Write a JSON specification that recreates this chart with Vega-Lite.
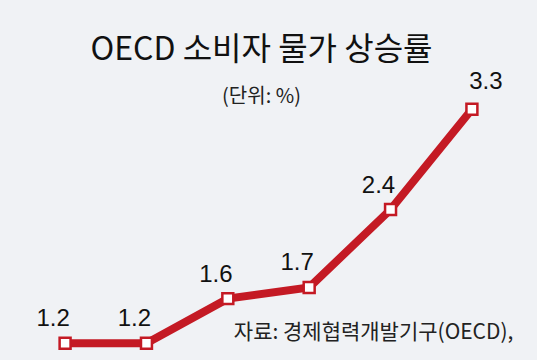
{
  "$schema": "https://vega.github.io/schema/vega-lite/v6.json",
  "width": 537,
  "height": 360,
  "autosize": {"type": "fit", "contains": "padding"},
  "padding": 0,
  "background": "#f0f2f5",
  "config": {"view": {"stroke": null}},
  "title": {
    "text": "OECD 소비자 물가 상승률",
    "subtitle": "(단위: %)",
    "anchor": "middle",
    "offset": -108,
    "dx": -7,
    "font": "Noto Sans CJK KR",
    "fontSize": 32,
    "fontWeight": "normal",
    "color": "#111111",
    "subtitleFont": "Noto Sans CJK KR",
    "subtitleFontSize": 20,
    "subtitleColor": "#222222",
    "subtitlePadding": 20
  },
  "layer": [
    {
      "data": {"values": [
        {"month": "2020.11", "rate": 1.2},
        {"month": "2020.12", "rate": 1.2},
        {"month": "2021.1", "rate": 1.6},
        {"month": "2021.2", "rate": 1.7},
        {"month": "2021.3", "rate": 2.4},
        {"month": "2021.4", "rate": 3.3}
      ]},
      "encoding": {
        "x": {"field": "month", "type": "ordinal", "sort": null, "scale": {"type": "point", "padding": 0.8}, "axis": null},
        "y": {"field": "rate", "type": "quantitative", "scale": {"domain": [1.1566, 4.2816], "zero": false, "nice": false}, "axis": null}
      },
      "layer": [
        {"mark": {"type": "line", "color": "#c41a24", "strokeWidth": 8}},
        {"mark": {"type": "point", "shape": "square", "filled": true, "fill": "#ffffff", "stroke": "#c41a24", "strokeWidth": 2.5, "size": 120, "opacity": 1}},
        {
          "transform": [{"filter": "datum.month != '2021.4'"}],
          "mark": {"type": "text", "baseline": "alphabetic", "align": "center", "dy": -17, "dx": -12, "font": "Liberation Sans", "fontSize": 24, "color": "#111111"},
          "encoding": {"text": {"field": "rate", "type": "quantitative", "format": ".1f"}}
        },
        {
          "transform": [{"filter": "datum.month == '2021.4'"}],
          "mark": {"type": "text", "baseline": "alphabetic", "align": "center", "dy": -20, "dx": 14, "font": "Liberation Sans", "fontSize": 24, "color": "#111111"},
          "encoding": {"text": {"field": "rate", "type": "quantitative", "format": ".1f"}}
        }
      ]
    },
    {
      "data": {"values": [{"note": "자료: 경제협력개발기구(OECD),"}]},
      "mark": {"type": "text", "align": "left", "baseline": "alphabetic", "dx": 6, "dy": -4, "font": "Noto Sans CJK KR", "fontSize": 21, "color": "#222222"},
      "encoding": {
        "x": {"datum": "2021.1", "type": "ordinal"},
        "y": {"datum": 1.2, "type": "quantitative"},
        "text": {"field": "note"}
      }
    }
  ]
}
